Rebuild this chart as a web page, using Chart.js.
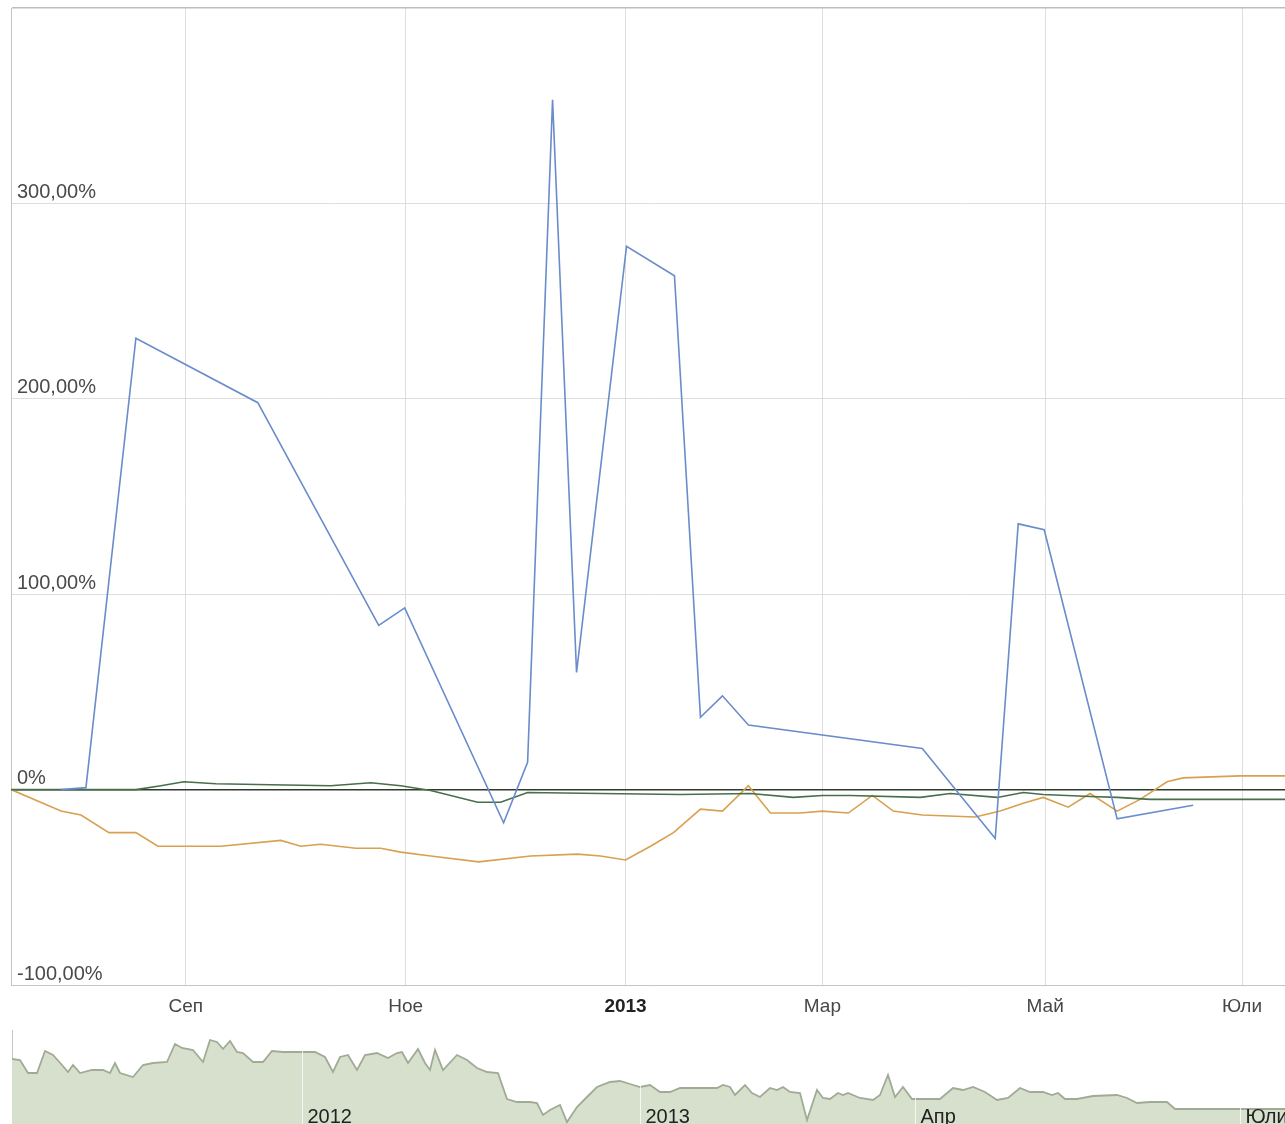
<!DOCTYPE html>
<html><head><meta charset="utf-8">
<script src="https://cdn.jsdelivr.net/npm/chart.js@4.4.0/dist/chart.umd.min.js"></script>
<style>
html,body{margin:0;padding:0;background:#fff;overflow:hidden;width:1285px;height:1124px;}
#main{position:absolute;left:0;top:0;width:1285px;height:1022px;}
#nav{position:absolute;left:0;top:1020px;width:1285px;height:104px;}
</style></head><body>
<div id="main"><canvas id="c1"></canvas></div>
<div id="nav"><canvas id="c2"></canvas></div>
<script>
// x values: trading-session index along the main time axis
const monthTickPos = [35, 79, 123, 162.4, 207, 246.4];
const monthTickLabels = ['Сеп', 'Ное', '2013', 'Мар', 'Май', 'Юли'];
const yTicks = [-100, 0, 100, 200, 300, 400];

const blueX = [10, 15, 25, 49.4, 73.6, 78.8, 98.6, 103.4, 108.4, 113.2, 123.2, 132.8, 138, 142.4, 147.6, 182.4, 197, 201.6, 206.8, 221.4, 236.6];
const blueY = [0, 1, 231, 198, 84, 93, -17, 14, 353, 60, 278, 263, 37, 48, 33, 21, -25, 136, 133, -15, -8];

const orangeX = [0, 10, 14, 19.6, 25, 29.4, 42, 54, 58, 62, 69, 74, 78, 84, 93.6, 104, 113.4, 118, 123, 128, 132.6, 138, 142.4, 147.6, 152, 158, 162.4, 167.6, 172.4, 176.6, 182.4, 193, 198, 202.6, 206.6, 211.6, 216, 221.4, 226, 231.4, 234.6, 246, 255];
const orangeY = [0, -11, -13, -22, -22, -29, -29, -26, -29, -28, -30, -30, -32, -34, -37, -34, -33, -34, -36, -29, -22, -10, -11, 2, -12, -12, -11, -12, -3, -11, -13, -14, -11, -7, -4, -9, -2, -11, -5, 4, 6, 7, 7];

const greenX = [0, 25, 30, 34.6, 41, 52, 64, 72, 78, 84, 93.4, 98, 103.4, 118, 134, 148, 156.6, 162.4, 168, 182, 188, 197.4, 202.6, 206.6, 216, 221.4, 228, 255];
const greenY = [0, 0, 2, 4, 3, 2.5, 2, 3.5, 2, -0.5, -6.5, -6.5, -1.5, -2, -2.5, -2, -4, -3, -3, -4, -2, -4, -1.5, -2.5, -3.5, -4, -5, -5];

// navigator (overview) series
const navX = [0, 1.6, 3.2, 5, 6.6, 8.2, 10, 11.2, 12.2, 13.6, 16, 18.2, 19.6, 20.6, 21.6, 24.2, 26.2, 28.2, 31, 32.6, 34, 36.2, 38.2, 39.6, 41, 42.2, 43.6, 45, 46.2, 48.2, 50.2, 52, 54.2, 57.6, 60.6, 62.6, 64.2, 65.6, 67.2, 69, 70.6, 73, 75.2, 77, 78, 79.2, 81.2, 82.6, 83.6, 84.6, 86.2, 89, 91, 93, 95, 97.2, 99, 101, 103.6, 105, 106.2, 107.6, 109.6, 111, 113, 115, 117, 119.6, 121.6, 123.6, 125.6, 127.6, 129.6, 131.6, 133.6, 137, 141, 142.2, 143.6, 144.6, 146.6, 148, 149.6, 151.6, 153, 154.2, 155.6, 157.6, 159, 161, 162.2, 163.6, 165.2, 166.2, 167.2, 169.6, 172.2, 173.6, 175.2, 176.6, 178.2, 180, 185.6, 188.2, 190.2, 192.2, 194.6, 197, 199.2, 201.6, 203.6, 206.2, 208, 209.2, 210.6, 213, 216.2, 221, 223, 225, 227.6, 231, 232.6, 236.2, 254.6];
const navY = [65, 64, 51, 51, 73, 69, 59, 52, 59, 51, 54, 54, 51, 61, 51, 47, 59, 61, 62, 80, 76, 74, 62, 84, 82, 75, 83, 72, 71, 62, 62, 73, 72, 72, 72, 67, 52, 67, 69, 54, 69, 71, 66, 71, 72, 61, 75, 61, 54, 74, 54, 69, 64, 56, 52, 51, 25, 22, 22, 21, 9, 14, 19, 2, 17, 27, 37, 42, 43, 40, 37, 39, 32, 32, 36, 36, 36, 39, 37, 29, 39, 31, 27, 36, 34, 37, 32, 31, 4, 34, 26, 25, 31, 29, 31, 26, 24, 29, 49, 27, 37, 25, 25, 36, 34, 37, 32, 24, 26, 36, 32, 32, 29, 31, 25, 25, 28, 29, 26, 21, 22, 22, 15, 15, 15];
const navSepX = [58, 125.6, 180.6, 245.6];
const navSepLabels = ['2012', '2013', 'Апр', 'Юли'];

const FONT = "'Liberation Sans', Arial, sans-serif";
const pts = (xs, ys) => xs.map((x, i) => ({x: x, y: ys[i]}));
const fmtPct = v => v === 0 ? '0%' : v.toFixed(2).replace('.', ',') + '%';

new Chart(document.getElementById('c1'), {
  type: 'line',
  data: { datasets: [
    {data: pts(blueX, blueY), borderColor: '#6a8ccb', borderWidth: 1.6, pointRadius: 0, tension: 0, fill: false},
    {data: pts(greenX, greenY), borderColor: '#476f49', borderWidth: 1.6, pointRadius: 0, tension: 0, fill: false},
    {data: pts(orangeX, orangeY), borderColor: '#d8a04f', borderWidth: 1.6, pointRadius: 0, tension: 0, fill: false}
  ]},
  options: {
    animation: false, responsive: true, maintainAspectRatio: false,
    layout: {padding: {left: 11, top: 8, right: 0, bottom: 0}},
    plugins: {legend: {display: false}, tooltip: {enabled: false}},
    scales: {
      x: {
        type: 'linear', min: 0, max: 255,
        afterBuildTicks: s => { s.ticks = monthTickPos.map(v => ({value: v})); },
        afterFit: s => { s.height = 37; s.paddingLeft = 0; s.paddingRight = 0; },
        grid: {color: '#dedede', drawTicks: false, lineWidth: 1},
        border: {color: '#c4c4c4'},
        ticks: {
          padding: 10, maxRotation: 0, autoSkip: false,
          color: c => c.index === 2 ? '#222' : '#474747',
          font: c => ({family: FONT, size: 19, weight: c.index === 2 ? 'bold' : 'normal'}),
          callback: (v, i) => monthTickLabels[i]
        }
      },
      y: {
        min: -100, max: 400,
        afterBuildTicks: s => { s.ticks = yTicks.map(v => ({value: v})); },
        afterFit: s => { s.width = 0; s.paddingTop = 0; s.paddingBottom = 0; },
        grid: {
          color: c => (c.tick && c.tick.value === 0) ? '#2e3a2e' : (c.tick && c.tick.value === 400 ? '#bdbdbd' : '#dedede'),
          lineWidth: c => (c.tick && (c.tick.value === 0 || c.tick.value === 400)) ? 1.5 : 1,
          drawTicks: false
        },
        border: {color: '#c4c4c4'},
        ticks: {
          mirror: true, padding: 6, labelOffset: -11, color: '#4a4a4a',
          font: {family: FONT, size: 20},
          callback: v => v === 400 ? '' : fmtPct(v)
        }
      }
    }
  }
});

const navDecor = {
  id: 'navDecor',
  afterDatasetsDraw(chart) {
    const ctx = chart.ctx, xs = chart.scales.x, a = chart.chartArea;
    ctx.save();
    navSepX.forEach((v, i) => {
      const px = Math.round(xs.getPixelForValue(v)) + 0.5;
      ctx.strokeStyle = 'rgba(255,255,255,0.75)';
      ctx.lineWidth = 1;
      ctx.beginPath(); ctx.moveTo(px, a.top); ctx.lineTo(px, a.bottom); ctx.stroke();
      ctx.fillStyle = '#222';
      ctx.font = '20px ' + FONT;
      ctx.textBaseline = 'alphabetic';
      ctx.textAlign = 'left';
      ctx.fillText(navSepLabels[i], px + 5, chart.height - 1);
    });
    ctx.restore();
  }
};

new Chart(document.getElementById('c2'), {
  type: 'line',
  data: { datasets: [
    {data: pts(navX, navY), borderColor: '#a0ab96', borderWidth: 1.8, backgroundColor: '#d7e0cc', fill: 'origin', pointRadius: 0, tension: 0}
  ]},
  options: {
    animation: false, responsive: true, maintainAspectRatio: false,
    layout: {padding: {left: 12, top: 10, right: 0, bottom: 0}},
    plugins: {legend: {display: false}, tooltip: {enabled: false}},
    scales: {
      x: {type: 'linear', min: 0, max: 254.6, display: false},
      y: {
        min: 0, max: 94, display: true,
        ticks: {display: false}, grid: {display: false},
        border: {color: '#c8c8c8'},
        afterFit: s => { s.width = 0; s.paddingTop = 0; s.paddingBottom = 0; }
      }
    }
  },
  plugins: [navDecor]
});
</script>
</body></html>
